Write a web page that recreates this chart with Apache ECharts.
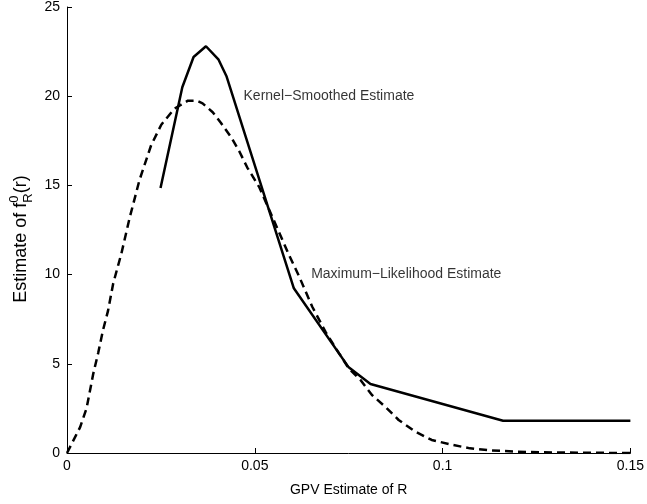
<!DOCTYPE html>
<html>
<head>
<meta charset="utf-8">
<script src="https://cdn.jsdelivr.net/npm/echarts@6/dist/echarts.min.js"></script>
<style>
html,body{margin:0;padding:0;background:#fff;}
#c{width:647px;height:504px;}
</style>
</head>
<body>
<div id="c"></div>
<script>
// Kernel-smoothed estimate (solid)
const kernelX = [0.0249, 0.0307, 0.0337, 0.0370, 0.0403, 0.0425, 0.0604, 0.0750, 0.0808, 0.1161, 0.1500];
const kernelY = [14.85, 20.5, 22.2, 22.8, 22.07, 21.1, 9.23, 4.8, 3.87, 1.81, 1.81];
// Maximum-likelihood estimate (dashed)
const mleX = [0, 0.0035, 0.0052, 0.0070, 0.0083, 0.0096, 0.0109, 0.0123, 0.0145, 0.0167, 0.0193, 0.0224, 0.0251, 0.0286, 0.0322, 0.0345, 0.0361, 0.0388, 0.0410, 0.0437, 0.0459, 0.0480, 0.0512, 0.0591, 0.0618, 0.0653, 0.0688, 0.0724, 0.0750, 0.0781, 0.0812, 0.0847, 0.0883, 0.0927, 0.0971, 0.1028, 0.1073, 0.1126, 0.1200, 0.1300, 0.1400, 0.1500];
const mleY = [0, 1.45, 2.5, 4.45, 5.6, 6.9, 7.95, 9.5, 11.2, 13.2, 15.3, 17.25, 18.4, 19.3, 19.75, 19.75, 19.6, 19.1, 18.5, 17.7, 16.9, 16.0, 14.9, 11.1, 9.9, 8.2, 6.8, 5.6, 4.75, 4.1, 3.25, 2.6, 1.85, 1.2, 0.73, 0.45, 0.26, 0.15, 0.07, 0.03, 0.01, 0.0];
// Annotations
const labelTexts = ['Kernel\u2212Smoothed Estimate', 'Maximum\u2212Likelihood Estimate'];
const labelX = [0.047, 0.065];
const labelY = [20, 10];
// Axis titles
const xTitle = 'GPV Estimate of R';
const yTitleParts = ['Estimate of f', '0', 'R', '(r)'];

const FONT = 'Liberation Sans, Arial, sans-serif';
const YF = 18, YS = 13;
const mctx = document.createElement('canvas').getContext('2d');
function tw(s, size) { mctx.font = size + 'px ' + FONT; return mctx.measureText(s).width; }
const w1 = tw(yTitleParts[0], YF);
const ws = Math.max(tw(yTitleParts[1], YS), tw(yTitleParts[2], YS));
const w3 = tw(yTitleParts[3], YF);
const total = w1 + ws + w3;
const x0 = -total / 2;

const chart = echarts.init(document.getElementById('c'), null, {renderer: 'canvas'});
const axisCommon = {
  axisLine: {show: true, lineStyle: {color: '#000', width: 1}},
  axisTick: {show: true, inside: true, length: 5, lineStyle: {color: '#000'}},
  splitLine: {show: false},
  axisLabel: {color: '#000', fontFamily: FONT, fontSize: 14}
};
chart.setOption({
  animation: false,
  backgroundColor: '#fff',
  grid: {left: 67, right: 14, top: 7, bottom: 51, containLabel: false},
  xAxis: Object.assign({}, axisCommon, {
    type: 'value', min: 0, max: 0.15, interval: 0.05,
    axisLabel: Object.assign({}, axisCommon.axisLabel, {margin: 6, formatter: v => String(+v.toFixed(2))}),
    name: xTitle, nameLocation: 'middle', nameGap: 30,
    nameTextStyle: {color: '#000', fontFamily: FONT, fontSize: 14}
  }),
  yAxis: Object.assign({}, axisCommon, {
    type: 'value', min: 0, max: 25, interval: 5,
    axisLabel: Object.assign({}, axisCommon.axisLabel, {margin: 7})
  }),
  graphic: [{
    type: 'group', x: 21, y: 239, rotation: Math.PI / 2, silent: true,
    children: [
      {type: 'text', x: x0, y: 0, style: {text: yTitleParts[0], font: YF + 'px ' + FONT, fill: '#000', align: 'left', verticalAlign: 'middle'}},
      {type: 'text', x: x0 + w1, y: -7, style: {text: yTitleParts[1], font: YS + 'px ' + FONT, fill: '#000', align: 'left', verticalAlign: 'middle'}},
      {type: 'text', x: x0 + w1, y: 7, style: {text: yTitleParts[2], font: YS + 'px ' + FONT, fill: '#000', align: 'left', verticalAlign: 'middle'}},
      {type: 'text', x: x0 + w1 + ws, y: 0, style: {text: yTitleParts[3], font: YF + 'px ' + FONT, fill: '#000', align: 'left', verticalAlign: 'middle'}}
    ]
  }],
  series: [
    {
      type: 'line', name: 'MLE', symbol: 'none',
      data: mleX.map((x, i) => [x, mleY[i]]),
      lineStyle: {color: '#000', width: 2.5, type: [8, 5]},
      z: 2
    },
    {
      type: 'line', name: 'Kernel', symbol: 'none',
      data: kernelX.map((x, i) => [x, kernelY[i]]),
      lineStyle: {color: '#000', width: 2.5, type: 'solid'},
      z: 3
    },
    {
      type: 'scatter', symbolSize: 0,
      data: labelX.map((x, i) => ({value: [x, labelY[i]], name: labelTexts[i]})),
      label: {
        show: true, position: 'inside', align: 'left', verticalAlign: 'middle',
        formatter: p => p.name, color: '#000', fontFamily: FONT, fontSize: 14
      },
      silent: true, z: 4
    }
  ]
});
</script>
</body>
</html>
